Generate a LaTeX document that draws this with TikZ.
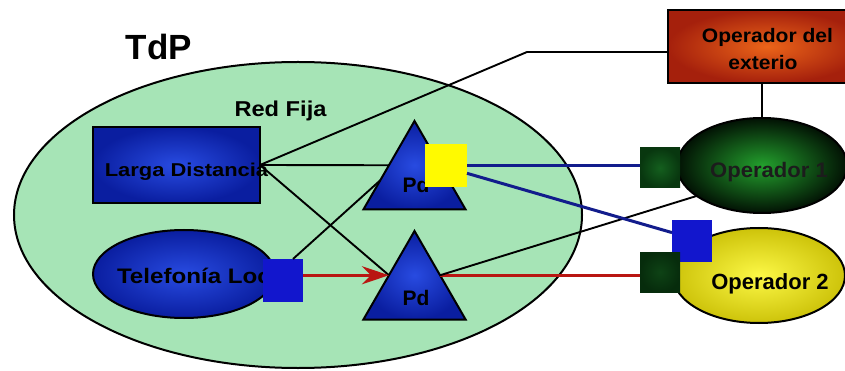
\documentclass[tikz,border=0pt]{standalone}
\usepackage{fontspec}
\setmainfont{Liberation Sans}
\usetikzlibrary{shapes.geometric,arrows.meta,calc}
\definecolor{bgreen}{RGB}{166,228,182}
\definecolor{blin}{RGB}{40,75,225}
\definecolor{blout}{RGB}{10,30,160}
\definecolor{sqblue}{RGB}{18,22,205}
\definecolor{sqyellow}{RGB}{255,250,0}
\definecolor{dgin}{RGB}{20,95,30}
\definecolor{dgout}{RGB}{8,55,15}
\definecolor{redin}{RGB}{235,100,25}
\definecolor{redout}{RGB}{165,32,12}
\definecolor{g1in}{RGB}{35,160,45}
\definecolor{g1out}{RGB}{2,18,4}
\definecolor{y2in}{RGB}{252,248,70}
\definecolor{y2out}{RGB}{205,195,10}
\definecolor{lnblue}{RGB}{18,28,140}
\definecolor{lnred}{RGB}{185,22,18}
\definecolor{optxt}{RGB}{28,28,28}
\begin{document}
\begin{tikzpicture}[x=1pt,y=-1pt,
  shp/.style={draw=black, line width=2pt, inner sep=0pt, outer sep=0pt},
  bluefill/.style={inner color=blin, outer color=blout},
  trinode/.style={shp, bluefill, regular polygon, regular polygon sides=3, minimum size=118pt},
  sqnode/.style={rectangle, inner sep=0pt, outer sep=0pt},
  txt/.style={inner sep=0pt, outer sep=0pt, anchor=base, text=black},
  blk/.style={draw=black, line width=1.9pt},
  bluln/.style={draw=lnblue, line width=3pt},
  redln/.style={draw=lnred, line width=3pt}
]
\useasboundingbox (0,0) rectangle (845,371);
\fill[white] (0,0) rectangle (845,371);
\clip (0,0) rectangle (845,371);

% big TdP ellipse
\node[shp, ellipse, fill=bgreen, minimum width=568pt, minimum height=306pt] (tdp) at (298,215) {};
\node[txt, font=\bfseries\fontsize{35}{40}\selectfont] (tdplab) at (159,60) {TdP};
\node[txt, font=\bfseries\fontsize{21.5}{25}\selectfont] (redfija) at (280.5,117) {\scalebox{1.1}[1]{Red Fija}};

% Larga Distancia
\node[shp, rectangle, bluefill, minimum width=167pt, minimum height=76pt] (ld) at (176.5,165) {};
\node[txt, font=\bfseries\fontsize{18.6}{22}\selectfont] (ldlab) at (186.5,177) {\scalebox{1.18}[1]{Larga Distancia}};

% Telefonia Local
\node[shp, ellipse, bluefill, minimum width=182pt, minimum height=88pt] (tel) at (184,274) {};
\node[txt, font=\bfseries\fontsize{21}{25}\selectfont] (tellab) at (204,283) {\scalebox{1.15}[1]{Telefonía Local}};
\node[sqnode, fill=sqblue, minimum width=40pt, minimum height=43pt] (tsq) at (283,280.5) {};

% Pd triangles
\node[trinode] (pd1) at (414.5,180) {};
\node[txt, font=\bfseries\fontsize{21}{25}\selectfont] (pd1lab) at (416,193) {Pd};
\node[sqnode, fill=sqyellow, minimum width=42pt, minimum height=43pt] (ysq) at (446,166) {};
\node[trinode] (pd2) at (414.5,290) {};
\node[txt, font=\bfseries\fontsize{21}{25}\selectfont] (pd2lab) at (416,305) {Pd};

% Operador del exterio
\node[shp, rectangle, inner color=redin, outer color=redout, minimum width=198pt, minimum height=73pt] (ode) at (767,46.5) {};
\node[txt, font=\bfseries\fontsize{19.5}{23}\selectfont] (odel1) at (767.5,43) {\scalebox{1.08}[1]{Operador del}};
\node[txt, font=\bfseries\fontsize{19.5}{23}\selectfont] (odel2) at (763,70) {\scalebox{1.08}[1]{exterio}};

% Operador 1
\node[shp, ellipse, inner color=g1in, outer color=g1out, minimum width=170pt, minimum height=95pt] (op1) at (762,165.5) {};
\node[txt, text=optxt, font=\bfseries\fontsize{21}{25}\selectfont] (op1lab) at (769,178) {\scalebox{1.05}[1]{Operador 1}};
\node[sqnode, inner color=dgin, outer color=dgout, minimum width=40pt, minimum height=40pt] (dg1) at (660,168) {};

% Operador 2
\node[shp, ellipse, inner color=y2in, outer color=y2out, minimum width=172pt, minimum height=95pt] (op2) at (759,275.5) {};
\node[txt, font=\bfseries\fontsize{22}{26}\selectfont] (op2lab) at (770,289) {Operador 2};
\node[sqnode, fill=sqblue, minimum width=40pt, minimum height=42pt] (bsq2) at (692,241) {};
\node[sqnode, inner color=dgin!70!black, outer color=dgout!80!black, minimum width=40pt, minimum height=40pt] (dg2) at (660,272) {};

% helper coordinates
\coordinate (c1) at (527,52);
\coordinate (pd1l) at ($(pd1.corner 1)!0.5!(pd1.corner 2)$);
\coordinate (pd1l2) at ($(pd1.corner 1)!0.67!(pd1.corner 2)$);
\coordinate (pd2l) at ($(pd2.corner 1)!0.5!(pd2.corner 2)$);
\coordinate (pd2r) at ($(pd2.corner 1)!0.5!(pd2.corner 3)$);

% connectors
\draw[blk] (ld.east) -- (c1) -- (c1 -| ode.west);
\draw[blk] (ld.east) -- (pd1l);
\draw[blk] (ld.east) -- (pd2l);
\draw[blk] ($(tsq.north)!0.5!(tsq.north east)$) -- (pd1l2);
\draw[redln, -{Stealth[length=27pt, width=18pt, inset=9pt]}] (tsq.east |- pd2l) -- (pd2l);
\draw[redln] (pd2r) -- (pd2r -| dg2.west);
\draw[blk] (pd2r) -- (op1.205);
\draw[bluln] (ysq.east) -- (ysq.east -| dg1.west);
\draw[bluln] ($(ysq.north east)!0.67!(ysq.south east)$) -- ($(bsq2.north west)!0.3!(bsq2.south west)$);
\draw[blk] (op1.north |- ode.south) -- (op1.north);
\end{tikzpicture}
\end{document}
